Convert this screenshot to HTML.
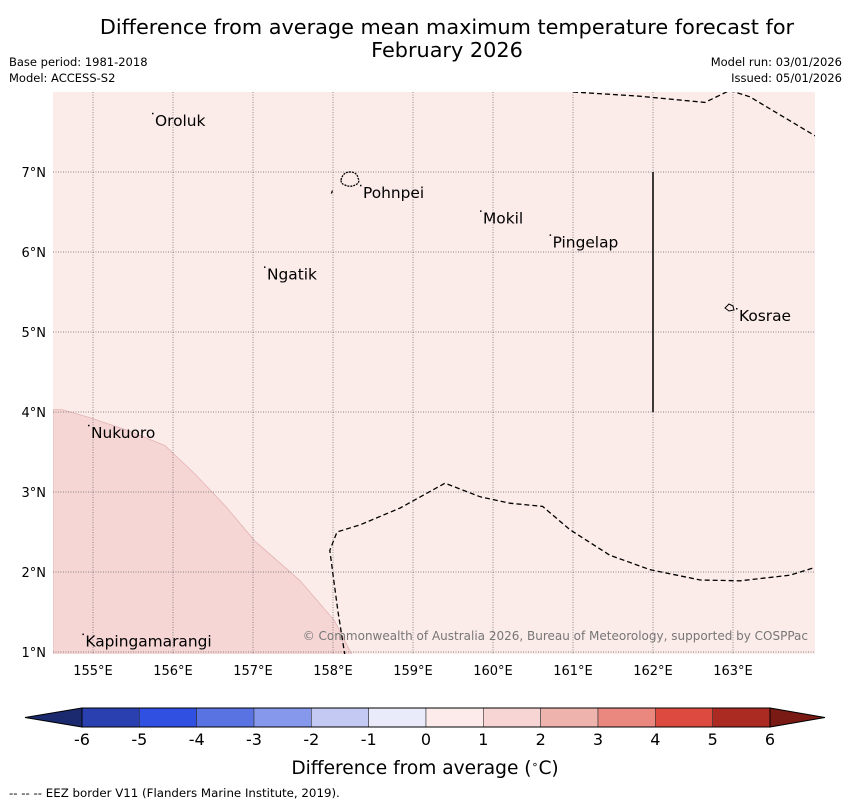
<!DOCTYPE html>
<html><head><meta charset="utf-8">
<style>
body{margin:0;background:#fff;width:850px;height:804px;overflow:hidden;font-family:"DejaVu Sans","Liberation Sans",sans-serif;}
svg text{font-family:"DejaVu Sans","Liberation Sans",sans-serif;}
</style></head>
<body>
<svg id="chart" width="850" height="804" xmlns="http://www.w3.org/2000/svg">
<text x="447" y="34" font-size="20.8" text-anchor="middle">Difference from average mean maximum temperature forecast for</text>
<text x="447" y="57" font-size="20.8" text-anchor="middle">February 2026</text>
<text x="9" y="66" font-size="11.5">Base period: 1981-2018</text>
<text x="9" y="82" font-size="11.5">Model: ACCESS-S2</text>
<text x="842" y="66" font-size="11.5" text-anchor="end">Model run: 03/01/2026</text>
<text x="842" y="82" font-size="11.5" text-anchor="end">Issued: 05/01/2026</text>
<g id="map"></g>
<g id="cbar"></g>
<text x="425" y="774" font-size="18.6" text-anchor="middle">Difference from average (<tspan baseline-shift="super" font-size="11">∘</tspan>C)</text>
<text x="9" y="797" font-size="11.8">--  --  -- EEZ border V11 (Flanders Marine Institute, 2019).</text>
</svg>
<script>
const lonTicks=[155,156,157,158,159,160,161,162,163];
const latTicks=[1,2,3,4,5,6,7];
const islands=[["Oroluk",155.75,7.64],["Pohnpei",158.35,6.74],["Mokil",159.85,6.42],["Pingelap",160.72,6.12],["Ngatik",157.15,5.72],["Kosrae",163.05,5.2],["Nukuoro",154.95,3.74],["Kapingamarangi",154.88,1.13]];
const anomalyLon=[154.5,154.61,154.96,155.46,155.9,156.27,156.65,157.02,157.59,158.02,158.27,158.27,154.5];
const anomalyLat=[4.03,4.03,3.93,3.76,3.58,3.23,2.83,2.39,1.89,1.39,0.9,0.9,0.9];
const eezTopLon=[161.0,161.8,162.65,162.96,163.21,164.03];
const eezTopLat=[8.0,7.95,7.87,8.02,7.94,7.45];
const eezBotLon=[158.15,158.06,157.96,158.05,158.34,158.84,159.4,159.84,160.21,160.62,160.96,161.46,161.96,162.59,163.09,163.71,164.0];
const eezBotLat=[0.95,1.52,2.27,2.5,2.59,2.8,3.11,2.94,2.86,2.82,2.53,2.21,2.03,1.9,1.89,1.96,2.05];
const cbLevels=[-6,-5,-4,-3,-2,-1,0,1,2,3,4,5,6];
const cbColors=["#2a40b0","#2f50e0","#5a73e3","#8598ec","#c3c9f3","#e9ebfa","#fcebea","#f7d5d5","#efb3ae","#ea8880","#dd4b40","#ab2a22"];
const cbUnder="#1b2a6e", cbOver="#7a1a14";

const NS="http://www.w3.org/2000/svg";
const X0=53,X1=815,Y0=92,Y1=654, LON0=154.5, LAT1=8.0, PPD=80;
const xs=l=>X0+(l-LON0)*PPD, ys=l=>Y0+(LAT1-l)*PPD;
function mk(tag,attrs,parent){const e=document.createElementNS(NS,tag);for(const k in attrs)e.setAttribute(k,attrs[k]);parent.appendChild(e);return e;}
const map=document.getElementById('map');
const clip=mk('clipPath',{id:'mc'},map);mk('rect',{x:X0,y:Y0,width:X1-X0,height:Y1-Y0},clip);
let r=mk('rect',{x:X0,y:Y0,width:X1-X0,height:Y1-Y0,fill:'#fbebe9'},map);


const g=mk('g',{'clip-path':'url(#mc)'},map);
let pts=anomalyLon.map((l,i)=>xs(l)+','+ys(anomalyLat[i])).join(' ');
let poly=mk('polygon',{points:pts,fill:'#f5d6d5',stroke:'#e2b4b3','stroke-width':0.8},g);


lonTicks.forEach(l=>{const x=xs(l);
 let ln=mk('line',{x1:x,x2:x,y1:Y0,y2:Y1,stroke:'#666','stroke-width':0.7,'stroke-dasharray':'1,1.5'},g);
 
 
 let t=mk('text',{x:x,y:675,'font-size':13,'text-anchor':'middle'},map);t.textContent=l+'°E';
 
 });
latTicks.forEach(l=>{const y=ys(l);
 let ln=mk('line',{x1:X0,x2:X1,y1:y,y2:y,stroke:'#666','stroke-width':0.7,'stroke-dasharray':'1,1.5'},g);
 
 
 let t=mk('text',{x:46,y:y+5,'font-size':13,'text-anchor':'end'},map);t.textContent=l+'°N';
 
 });
function eez(lons,lats,name){let d=lons.map((l,i)=>(i?'L':'M')+xs(l)+','+ys(lats[i])).join(' ');
 let p=mk('path',{d:d,fill:'none',stroke:'#000','stroke-width':1.3,'stroke-dasharray':'5,3'},g);
 
 }
eez(eezTopLon,eezTopLat,'eez-border-north');
eez(eezBotLon,eezBotLat,'eez-border-south');
let vl=mk('line',{x1:xs(162),x2:xs(162),y1:ys(7),y2:ys(4),stroke:'#000','stroke-width':1.5},g);


let sm=mk('path',{d:`M${xs(157.98)},${ys(6.73)} l1,-3`,stroke:'#000','stroke-width':1.2},g);


let pc=mk('path',{d:`M${xs(158.1)},${ys(6.9)} q2,-8 9,-8 q7,0 8,6 q2,4 -1,6 q-6,4 -12,1 q-4,-1 -4,-5z`,fill:'none',stroke:'#000','stroke-width':1.3,'stroke-dasharray':'2,1'},g);


let kc=mk('path',{d:`M${xs(162.9)},${ys(5.3)} l4,-4 l4,2 l1,4 l-5,1z`,fill:'none',stroke:'#000','stroke-width':1},g);


islands.forEach(([n,lo,la])=>{
 let t=mk('text',{x:xs(lo)+2,y:ys(la)+5,'font-size':15.4},map);t.textContent=n;
 
 
 let d=mk('rect',{x:xs(lo)-1,y:ys(la)-8,width:1.5,height:1.5,fill:'#000'},map);
 
 });
let cr=mk('text',{x:808,y:640,'font-size':12,fill:'#777','text-anchor':'end'},map);
cr.textContent='© Commonwealth of Australia 2026, Bureau of Meteorology, supported by COSPPac';



const cb=document.getElementById('cbar');
const CX0=82,CX1=770,CY0=708,CY1=727;
const cx=v=>CX0+(v-cbLevels[0])/(cbLevels[cbLevels.length-1]-cbLevels[0])*(CX1-CX0);
let ut=mk('polygon',{points:`${CX0},${CY0} ${CX0},${CY1} 25,${(CY0+CY1)/2}`,fill:cbUnder,stroke:'#000','stroke-width':1},cb);


let ot=mk('polygon',{points:`${CX1},${CY0} ${CX1},${CY1} 825,${(CY0+CY1)/2}`,fill:cbOver,stroke:'#000','stroke-width':1},cb);


cbColors.forEach((c,i)=>{const a=cx(cbLevels[i]),b=cx(cbLevels[i+1]);
 let s=mk('rect',{x:a,y:CY0,width:b-a,height:CY1-CY0,fill:c,stroke:'#333','stroke-width':0.6},cb);
 
 });
mk('rect',{x:CX0,y:CY0,width:CX1-CX0,height:CY1-CY0,fill:'none',stroke:'#000','stroke-width':1},cb);
cbLevels.forEach(v=>{
 let t=mk('text',{x:cx(v),y:745,'font-size':16,'text-anchor':'middle'},cb);t.textContent=v;
 
 });
</script>
</body></html>
